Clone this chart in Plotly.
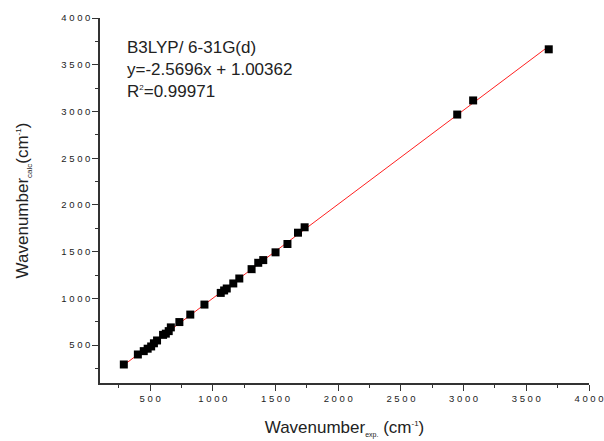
import numpy as np
import plotly.graph_objects as go

# Experimental vs calculated wavenumbers (cm^-1)
wn_exp = [290, 402, 449, 480, 508, 530, 555, 603, 625, 648, 665, 733, 820, 933,
          1063, 1090, 1111, 1163, 1211, 1309, 1362, 1402, 1500, 1595, 1679, 1732,
          2949, 3076, 3679]
wn_calc = [293, 400, 436, 462, 486, 520, 550, 610, 623, 650, 690, 747, 827, 934,
           1059, 1085, 1106, 1160, 1213, 1313, 1381, 1410, 1493, 1582, 1703, 1761,
           2967, 3118, 3665]

tick_vals = [500, 1000, 1500, 2000, 2500, 3000, 3500, 4000]
tick_text = [" ".join(str(v)) for v in tick_vals]

slope, intercept = np.polyfit(wn_exp, wn_calc, 1)
fit_x = [min(wn_exp), max(wn_exp)]
fit_y = [slope * v + intercept for v in fit_x]

fig = go.Figure()
fig.add_trace(go.Scatter(x=fit_x, y=fit_y, mode="lines",
                         line=dict(color="#ff2020", width=1), showlegend=False))
fig.add_trace(go.Scatter(x=wn_exp, y=wn_calc, mode="markers",
                         marker=dict(symbol="square", size=8, color="black",
                                     line=dict(width=0)),
                         showlegend=False))

axis_common = dict(
    showgrid=False, zeroline=False, showline=True, linecolor="#333333", linewidth=1.5,
    ticks="outside", ticklen=6, tickwidth=1.2, tickcolor="#333333",
    tickvals=tick_vals, ticktext=tick_text, automargin=False,
    ticklabeloverflow="allow",
    tickfont=dict(family="Liberation Sans, Arial", size=9.5, color="#222222"),
    minor=dict(ticks="outside", ticklen=3, tickwidth=1.2, tickcolor="#333333",
               tick0=0, dtick=250),
)

fig.update_xaxes(range=[100, 4000], **axis_common,
                 title=dict(text="Wavenumber<sub><span style='font-size:7px'>exp.</span></sub> (cm<sup><span style='font-size:8px'>-1</span></sup>)",
                            font=dict(family="Liberation Sans, Arial", size=17, color="#222222"),
                            standoff=18))
fig.update_yaxes(range=[95, 4000], **axis_common,
                 title=dict(text="Wavenumber<sub><span style='font-size:8px'>calc</span></sub>(cm<sup><span style='font-size:8px'>-1</span></sup>)",
                            font=dict(family="Liberation Sans, Arial", size=17, color="#222222"),
                            standoff=28))

fig.add_annotation(xref="paper", yref="paper", x=0.052, y=0.952, xanchor="left", yanchor="top",
                   align="left", showarrow=False,
                   text="B3LYP/ 6-31G(d)<br>y=-2.5696x + 1.00362<br>R<sup><span style='font-size:8px'>2</span></sup>=0.99971",
                   font=dict(family="Liberation Sans, Arial", size=17, color="#222222"))

fig.update_layout(width=604, height=441, margin=dict(l=100, r=15, t=18, b=58),
                  plot_bgcolor="white", paper_bgcolor="white")

fig.write_html("out.html")
